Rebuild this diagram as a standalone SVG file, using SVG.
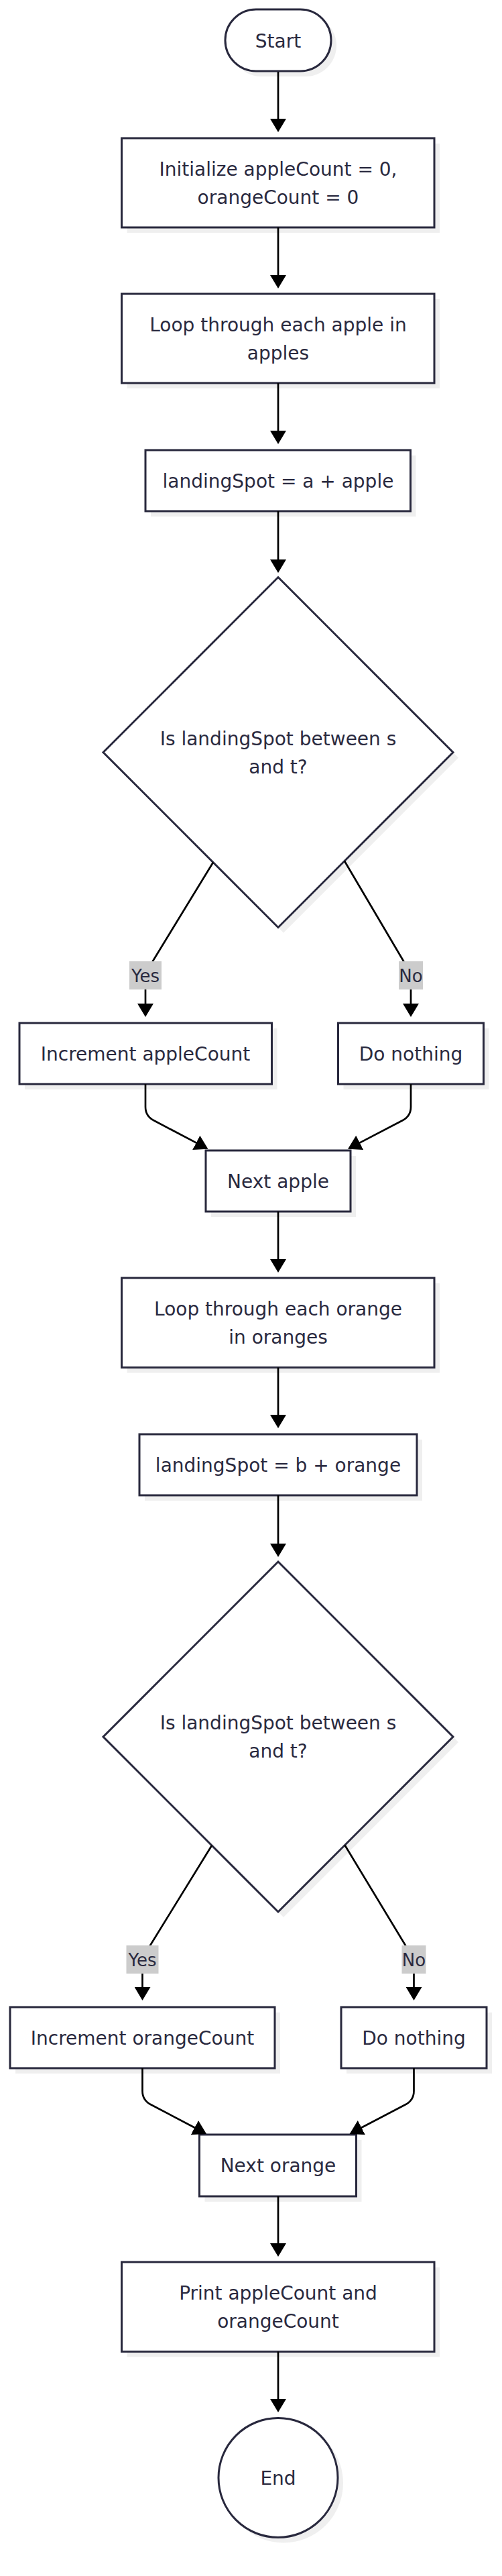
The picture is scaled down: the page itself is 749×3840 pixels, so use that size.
<svg xmlns="http://www.w3.org/2000/svg" width="749" height="3840" viewBox="0 0 749 3840">
<style>
.n{fill:#ffffff;stroke:#28283d;stroke-width:3}
.sh{fill:#efefef;stroke:none}
.t{font-family:"DejaVu Sans",sans-serif;font-size:28px;fill:#2a2a3f;text-anchor:middle}
.e{fill:none;stroke:#000000;stroke-width:2.7}
.lb{fill:#cccccc}
.lt{font-family:"DejaVu Sans",sans-serif;font-size:26px;fill:#2a2a3f;text-anchor:middle}
</style>
<defs>
<marker id="ah" viewBox="0 0 20 24" refX="10" refY="12" markerWidth="20" markerHeight="24" markerUnits="userSpaceOnUse" orient="auto">
<path d="M0,0 L20,12 L0,24 z" fill="#000000"/>
</marker>
</defs>
<rect width="749" height="3840" fill="#ffffff"/>

<g id="start">
<rect class="sh" x="344" y="22" width="158" height="92" rx="46"/>
<rect class="n" x="336" y="14" width="158" height="92" rx="46"/>
<text class="t" x="415" y="70.5">Start</text>
</g>
<g id="init">
<rect class="sh" x="189.5" y="214" width="466.5" height="133"/>
<rect class="n" x="181.5" y="206" width="466.5" height="133"/>
<text class="t" x="415" y="261.5">Initialize appleCount = 0,</text>
<text class="t" x="415" y="303.5">orangeCount = 0</text>
</g>
<g id="loopApples">
<rect class="sh" x="189.5" y="446" width="466.5" height="133"/>
<rect class="n" x="181.5" y="438" width="466.5" height="133"/>
<text class="t" x="415" y="493.5">Loop through each apple in</text>
<text class="t" x="415" y="535.5">apples</text>
</g>
<g id="landingA">
<rect class="sh" x="225" y="679" width="395.5" height="91"/>
<rect class="n" x="217" y="671" width="395.5" height="91"/>
<text class="t" x="415" y="726.5">landingSpot = a + apple</text>
</g>
<g id="decA">
<polygon class="sh" points="423,868.5 684,1129.5 423,1390.5 162,1129.5"/>
<polygon class="n" points="415,860.5 676,1121.5 415,1382.5 154,1121.5"/>
<text class="t" x="415" y="1110.5">Is landingSpot between s</text>
<text class="t" x="415" y="1152.5">and t?</text>
</g>
<g id="incApple">
<rect class="sh" x="37" y="1533" width="376.5" height="91"/>
<rect class="n" x="29" y="1525" width="376.5" height="91"/>
<text class="t" x="217" y="1580.5">Increment appleCount</text>
</g>
<g id="nothingA">
<rect class="sh" x="512.5" y="1533" width="217" height="91"/>
<rect class="n" x="504.5" y="1525" width="217" height="91"/>
<text class="t" x="613" y="1580.5">Do nothing</text>
</g>
<g id="nextApple">
<rect class="sh" x="315" y="1723" width="216" height="91"/>
<rect class="n" x="307" y="1715" width="216" height="91"/>
<text class="t" x="415" y="1770.5">Next apple</text>
</g>
<g id="loopOranges">
<rect class="sh" x="189.5" y="1913" width="466.5" height="133.5"/>
<rect class="n" x="181.5" y="1905" width="466.5" height="133.5"/>
<text class="t" x="415" y="1960.75">Loop through each orange</text>
<text class="t" x="415" y="2002.75">in oranges</text>
</g>
<g id="landingB">
<rect class="sh" x="216" y="2146" width="414" height="91"/>
<rect class="n" x="208" y="2138" width="414" height="91"/>
<text class="t" x="415" y="2193.5">landingSpot = b + orange</text>
</g>
<g id="decB">
<polygon class="sh" points="423,2336 684,2597 423,2858 162,2597"/>
<polygon class="n" points="415,2328 676,2589 415,2850 154,2589"/>
<text class="t" x="415" y="2578">Is landingSpot between s</text>
<text class="t" x="415" y="2620">and t?</text>
</g>
<g id="incOrange">
<rect class="sh" x="23" y="3000" width="395" height="91"/>
<rect class="n" x="15" y="2992" width="395" height="91"/>
<text class="t" x="212.5" y="3047.5">Increment orangeCount</text>
</g>
<g id="nothingB">
<rect class="sh" x="517" y="3000" width="217" height="91"/>
<rect class="n" x="509" y="2992" width="217" height="91"/>
<text class="t" x="617.5" y="3047.5">Do nothing</text>
</g>
<g id="nextOrange">
<rect class="sh" x="305.5" y="3190" width="234" height="92"/>
<rect class="n" x="297.5" y="3182" width="234" height="92"/>
<text class="t" x="415" y="3238">Next orange</text>
</g>
<g id="print">
<rect class="sh" x="189.5" y="3380" width="466.5" height="133.5"/>
<rect class="n" x="181.5" y="3372" width="466.5" height="133.5"/>
<text class="t" x="415" y="3427.75">Print appleCount and</text>
<text class="t" x="415" y="3469.75">orangeCount</text>
</g>
<g id="end">
<circle class="sh" cx="423" cy="3701.5" r="89"/>
<circle class="n" cx="415" cy="3693.5" r="89"/>
<text class="t" x="415" y="3703.5">End</text>
</g>

<g id="connectors">
<path class="e" marker-end="url(#ah)" d="M415,107 V187"/>
<path class="e" marker-end="url(#ah)" d="M415,339 V420"/>
<path class="e" marker-end="url(#ah)" d="M415,571 V652"/>
<path class="e" marker-end="url(#ah)" d="M415,762 V844"/>
<path class="e" marker-end="url(#ah)" d="M318,1285.5 L226,1436 Q217,1450 217,1466 V1506"/>
<path class="e" marker-end="url(#ah)" d="M514,1283.5 L604,1436 Q613,1450 613,1466 V1506"/>
<path class="e" marker-end="url(#ah)" d="M217,1616 V1650 Q217,1664 230,1670.5 L301.6,1708.1"/>
<path class="e" marker-end="url(#ah)" d="M613,1616 V1650 Q613,1664 600,1670.5 L527.9,1708.1"/>
<path class="e" marker-end="url(#ah)" d="M415,1806 V1887"/>
<path class="e" marker-end="url(#ah)" d="M415,2038.5 V2119"/>
<path class="e" marker-end="url(#ah)" d="M415,2229 V2311"/>
<path class="e" marker-end="url(#ah)" d="M316,2751 L221,2905 Q212.5,2918 212.5,2932 V2972"/>
<path class="e" marker-end="url(#ah)" d="M514.5,2750.5 L608,2905 Q617.5,2918 617.5,2932 V2972"/>
<path class="e" marker-end="url(#ah)" d="M212.5,3083 V3117 Q212.5,3131 225.5,3137.5 L299.2,3176.3"/>
<path class="e" marker-end="url(#ah)" d="M617.5,3083 V3117 Q617.5,3131 604.5,3137.5 L530.5,3176.3"/>
<path class="e" marker-end="url(#ah)" d="M415,3274 V3354"/>
<path class="e" marker-end="url(#ah)" d="M415,3505.5 V3586"/>
<g id="labelYesA"><rect class="lb" x="193" y="1433" width="48" height="42"/><text class="lt" x="217" y="1463.5">Yes</text></g>
<g id="labelNoA"><rect class="lb" x="595" y="1433" width="36" height="42"/><text class="lt" x="613" y="1463.5">No</text></g>
<g id="labelYesB"><rect class="lb" x="188.5" y="2900" width="48" height="42"/><text class="lt" x="212.5" y="2930.5">Yes</text></g>
<g id="labelNoB"><rect class="lb" x="599.5" y="2900" width="36" height="42"/><text class="lt" x="617.5" y="2930.5">No</text></g>
</g>
</svg>
